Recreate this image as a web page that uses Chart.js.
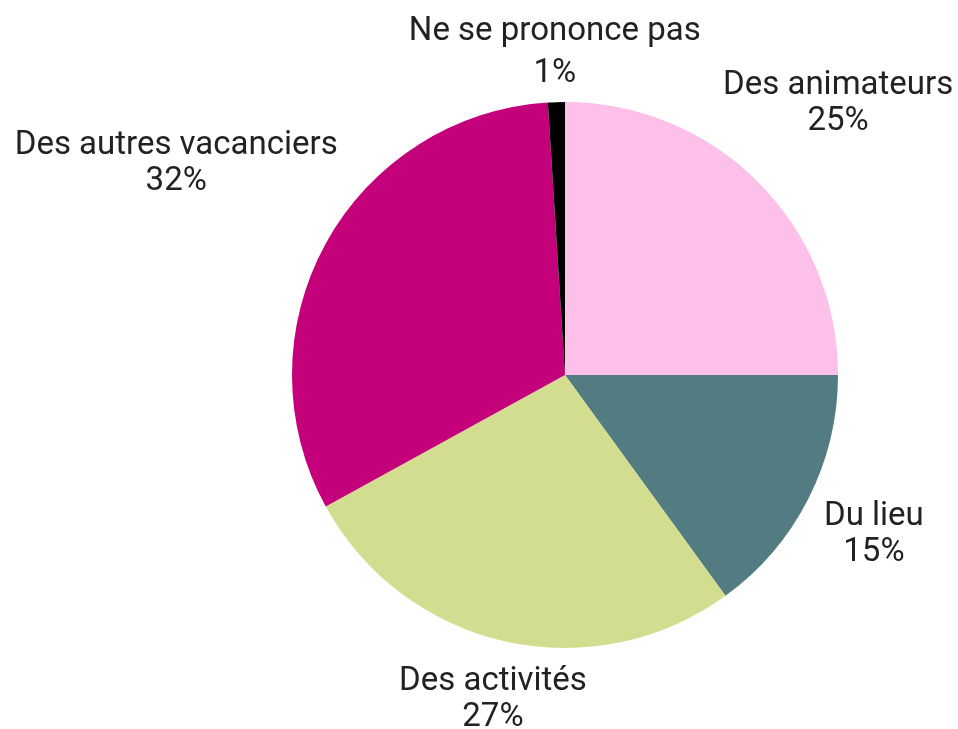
<!DOCTYPE html>
<html lang="fr">
<head>
<meta charset="utf-8">
<title>Camembert</title>
<script src="https://cdn.jsdelivr.net/npm/chart.js@4/dist/chart.umd.min.js"></script>
<style>
  html, body { margin: 0; padding: 0; background: #fff; }
  canvas { display: block; }
</style>
</head>
<body>
<canvas id="pie" width="958" height="729"></canvas>
<script>
// donnees (sens horaire depuis midi)
const categories = ['Des animateurs', 'Du lieu', 'Des activités', 'Des autres vacanciers', 'Ne se prononce pas'];
const values = [25, 15, 27, 32, 1];
const valueLabels = ['25%', '15%', '27%', '32%', '1%'];
const sliceColors = ['#FCC0E9', '#537C82', '#D3DD8F', '#C4007A', '#000000'];

// distance des etiquettes, en multiples du rayon
const labelDistance = [1.415, 1.27, 1.21, 1.625, 1.19];

// etiquettes a l'exterieur des parts, centrees sur l'angle median
const outsideLabels = {
  id: 'outsideLabels',
  afterDraw(chart) {
    const ctx = chart.ctx;
    const arcs = chart.getDatasetMeta(0).data;
    ctx.save();
    ctx.font = '33px Roboto';
    ctx.fillStyle = '#222';
    ctx.textAlign = 'center';
    ctx.textBaseline = 'middle';
    arcs.forEach((arc, i) => {
      const p = arc.getProps(['x', 'y', 'startAngle', 'endAngle', 'outerRadius'], true);
      const mid = (p.startAngle + p.endAngle) / 2;
      const r = p.outerRadius * labelDistance[i];
      const cx = p.x + Math.cos(mid) * r;
      const cy = p.y + Math.sin(mid) * r + 2;
      // la derniere etiquette (en haut) a un interligne un peu plus grand
      const gap = i === 4 ? 21 : 18;
      ctx.fillText(categories[i], cx, cy - gap);
      ctx.fillText(valueLabels[i], cx, cy + gap);
    });
    ctx.restore();
  }
};

new Chart(document.getElementById('pie'), {
  type: 'pie',
  data: {
    labels: categories,
    datasets: [{
      data: values,
      backgroundColor: sliceColors,
      borderWidth: 0
    }]
  },
  options: {
    responsive: false,
    animation: false,
    layout: { padding: { left: 292, right: 120, top: 102, bottom: 81 } },
    plugins: { legend: { display: false }, tooltip: { enabled: false } }
  },
  plugins: [outsideLabels]
});
</script>
</body>
</html>
